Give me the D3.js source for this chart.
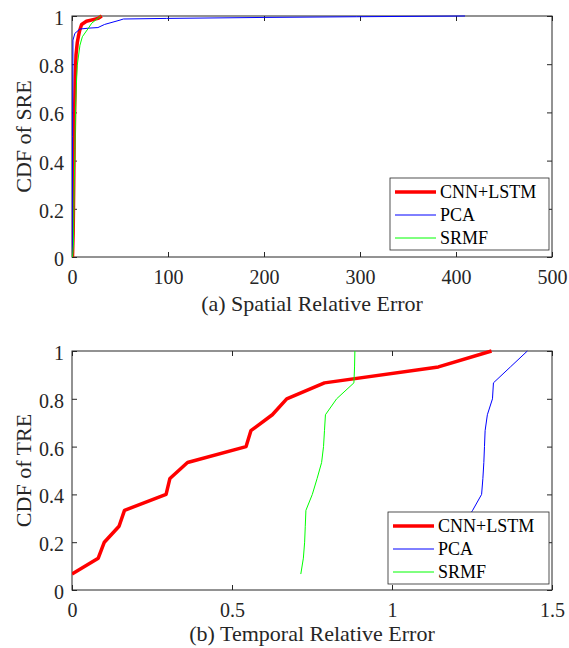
<!DOCTYPE html>
<html><head><meta charset="utf-8">
<script src="https://cdn.jsdelivr.net/npm/d3@7"></script>
<style>body{margin:0;background:#fff}svg{display:block}
svg text{font-family:"Liberation Serif","Tinos","Times New Roman","Nimbus Roman","DejaVu Serif",serif;}
</style>
</head><body>
<script>
// ---- Data ----
const seriesNames = ["CNN+LSTM", "PCA", "SRMF"];
const seriesColors = ["#ff0000", "#0000ff", "#00ff00"];
const seriesWidths = [3.5, 1, 1];

// (a) Spatial Relative Error
const sreXTicks = [0, 100, 200, 300, 400, 500];
const yTicks = [0, 0.2, 0.4, 0.6, 0.8, 1];
const sreCnnX = [0.5, 1.2, 1.8, 2.3, 2.8, 3.4, 4.2, 5.5, 6.6, 8, 10, 15, 22, 27, 31];
const sreCnnY = [0, 0.1, 0.3, 0.5, 0.62, 0.75, 0.84, 0.89, 0.914, 0.94, 0.965, 0.978, 0.985, 0.99, 1.0];
const srePcaX = [0.3, 0.6, 1.0, 3, 8.3, 18.7, 27, 34, 50, 53.5, 98.6, 199, 296.5, 409.4];
const srePcaY = [0, 0.5, 0.9, 0.928, 0.946, 0.95, 0.952, 0.965, 0.983, 0.9875, 0.99, 0.994, 0.997, 1.0];
const sreSrmfX = [0.6, 1.5, 2.0, 3.0, 3.8, 4.6, 5.5, 8.3, 10.8, 17, 20.5, 30];
const sreSrmfY = [0, 0.05, 0.21, 0.45, 0.63, 0.72, 0.796, 0.879, 0.914, 0.949, 0.97, 1.0];

// (b) Temporal Relative Error
const treXTicks = [0, 0.5, 1, 1.5];
const treCnnX = [0, 0.082, 0.101, 0.147, 0.164, 0.294, 0.306, 0.361, 0.544, 0.559, 0.626, 0.671, 0.789, 1.145, 1.311];
const treCnnY = [0.0667, 0.1333, 0.2, 0.2667, 0.3333, 0.4, 0.4667, 0.5333, 0.6, 0.6667, 0.7333, 0.8, 0.8667, 0.9333, 1.0];
const trePcaX = [1.10, 1.15, 1.19, 1.22, 1.252, 1.280, 1.284, 1.287, 1.289, 1.291, 1.298, 1.314, 1.317, 1.37, 1.423];
const trePcaY = [0.0667, 0.1333, 0.2, 0.2667, 0.3333, 0.4, 0.4667, 0.5333, 0.6, 0.6667, 0.7333, 0.8, 0.8667, 0.9333, 1.0];
const treSrmfX = [0.715, 0.723, 0.727, 0.729, 0.731, 0.751, 0.766, 0.780, 0.786, 0.789, 0.792, 0.827, 0.881, 0.883, 0.884];
const treSrmfY = [0.0667, 0.1333, 0.2, 0.2667, 0.3333, 0.4, 0.4667, 0.5333, 0.6, 0.6667, 0.7333, 0.8, 0.8667, 0.9333, 1.0];

const W = 569, H = 648;
const svg = d3.select("body").append("svg").attr("width", W).attr("height", H);

function zip(xs, ys){ return xs.map((x,i)=>[x, ys[i]]); }

function panel(cfg){
  const g = svg.append("g");
  const x = d3.scaleLinear().domain(cfg.xDomain).range([72, 552]);
  const y = d3.scaleLinear().domain([0,1]).range([cfg.bottom, cfg.top]);
  const tl = 5;
  const ax = g.append("g").attr("transform", `translate(0,${cfg.bottom})`)
    .call(d3.axisBottom(x).tickValues(cfg.xTicks).tickFormat(d3.format("")).tickSizeInner(-tl).tickSizeOuter(0).tickPadding(13));
  const axT = g.append("g").attr("transform", `translate(0,${cfg.top})`)
    .call(d3.axisTop(x).tickValues(cfg.xTicks).tickFormat("").tickSizeInner(-tl).tickSizeOuter(0));
  const ay = g.append("g").attr("transform", `translate(72,0)`)
    .call(d3.axisLeft(y).tickValues(yTicks).tickFormat(d3.format("")).tickSizeInner(-tl).tickSizeOuter(0).tickPadding(8));
  const ayR = g.append("g").attr("transform", `translate(552,0)`)
    .call(d3.axisRight(y).tickValues(yTicks).tickFormat("").tickSizeInner(-tl).tickSizeOuter(0));
  [ax, axT, ay, ayR].forEach(a => {
    a.attr("font-family", null);
    a.selectAll("path").remove();
    a.selectAll("line").attr("stroke", "#262626");
    a.selectAll("text").attr("font-size", 20).attr("fill", "#262626");
  });
  ax.selectAll("text").attr("dy", "0.71em");
  ay.selectAll("text").attr("dy", "0.42em");
  g.append("rect").attr("x", 72).attr("y", cfg.top).attr("width", 480).attr("height", cfg.bottom - cfg.top)
    .attr("fill", "none").attr("stroke", "#262626").attr("stroke-width", 1);
  const clipId = "clip" + cfg.id;
  svg.append("clipPath").attr("id", clipId).append("rect")
    .attr("x", 72).attr("y", cfg.top - 3).attr("width", 480).attr("height", cfg.bottom - cfg.top + 6);
  const line = d3.line().x(d => x(d[0])).y(d => y(d[1]));
  cfg.series.forEach((s, i) => {
    g.append("path").attr("clip-path", `url(#${clipId})`)
      .attr("d", line(zip(s[0], s[1]))).attr("fill", "none")
      .attr("stroke", seriesColors[i]).attr("stroke-width", seriesWidths[i])
      .attr("stroke-linejoin", "round");
  });
  g.append("text").attr("transform", `translate(31,${(cfg.top + cfg.bottom)/2}) rotate(-90)`)
    .attr("text-anchor", "middle").attr("font-size", 22).attr("fill", "#262626")
    .text(cfg.yLabel);
  g.append("text").attr("x", 312).attr("y", cfg.titleY).attr("text-anchor", "middle")
    .attr("font-size", 22).attr("fill", "#262626").text(cfg.xLabel);
  const L = cfg.legend;
  const lg = g.append("g");
  lg.append("rect").attr("x", L.x).attr("y", L.y).attr("width", L.w).attr("height", L.h)
    .attr("fill", "#fff").attr("stroke", "#262626").attr("stroke-width", 0.8);
  seriesNames.forEach((n, i) => {
    const yy = L.y + 14 + i * 23;
    lg.append("line").attr("x1", L.x + 5).attr("x2", L.x + 46).attr("y1", yy).attr("y2", yy)
      .attr("stroke", seriesColors[i]).attr("stroke-width", seriesWidths[i]);
    lg.append("text").attr("x", L.x + 50).attr("y", yy).attr("dy", "0.35em")
      .attr("font-size", 18).attr("fill", "#000").text(n);
  });
}

panel({ id: "a", xDomain: [0, 500], xTicks: sreXTicks, top: 16, bottom: 257,
  series: [[sreCnnX, sreCnnY], [srePcaX, srePcaY], [sreSrmfX, sreSrmfY]],
  yLabel: "CDF of SRE", xLabel: "(a) Spatial Relative Error", titleY: 311,
  legend: { x: 390, y: 178, w: 159, h: 72 } });

panel({ id: "b", xDomain: [0, 1.5], xTicks: treXTicks, top: 351, bottom: 590,
  series: [[treCnnX, treCnnY], [trePcaX, trePcaY], [treSrmfX, treSrmfY]],
  yLabel: "CDF of TRE", xLabel: "(b) Temporal Relative Error", titleY: 641,
  legend: { x: 388, y: 512, w: 161, h: 72 } });
</script>
</body></html>
